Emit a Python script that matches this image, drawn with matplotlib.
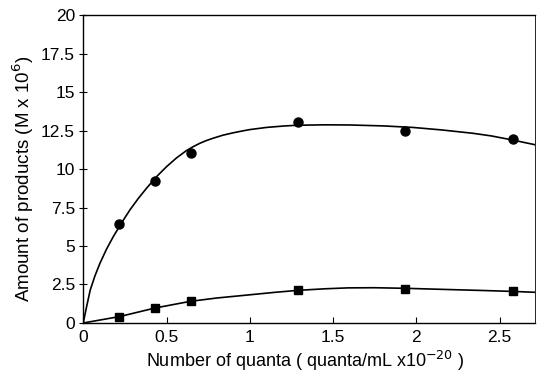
import matplotlib
matplotlib.use("Agg")
import matplotlib.pyplot as plt

plt.rcParams['font.family'] = ['Liberation Sans', 'DejaVu Sans']

# measured points
x_pts = [0.215, 0.43, 0.645, 1.29, 1.935, 2.58]
circle_vals = [6.43, 9.24, 11.06, 13.07, 12.47, 11.93]
square_vals = [0.42, 0.99, 1.41, 2.15, 2.20, 2.05]

# fitted curves
circ_curve_x = [0, 0.02, 0.042, 0.07, 0.10, 0.14, 0.18, 0.23, 0.28, 0.33, 0.38, 0.44, 0.50,
                0.56, 0.62, 0.66, 0.70, 0.74, 0.78, 0.84, 0.90, 0.95, 1.0, 1.1, 1.2, 1.28,
                1.45, 1.6, 1.8, 1.98, 2.15, 2.34, 2.45, 2.58, 2.72]
circ_curve_y = [0, 1.05, 2.14, 3.05, 3.87, 4.8, 5.6, 6.5, 7.34, 8.08, 8.75, 9.5, 10.15,
                10.72, 11.2, 11.45, 11.67, 11.85, 12.0, 12.2, 12.35, 12.46, 12.56, 12.7, 12.79, 12.84,
                12.87, 12.86, 12.8, 12.7, 12.54, 12.32, 12.15, 11.88, 11.56]
sq_curve_x = [0, 0.22, 0.43, 0.64, 0.80, 0.99, 1.15, 1.29, 1.45, 1.59, 1.75, 1.94, 2.2, 2.4, 2.58, 2.72]
sq_curve_y = [0, 0.42, 0.97, 1.40, 1.62, 1.82, 1.99, 2.12, 2.22, 2.28, 2.29, 2.25, 2.17, 2.11, 2.05, 1.99]

xticks = [0, 0.5, 1, 1.5, 2, 2.5]
xtick_labels = ['0', '0.5', '1', '1.5', '2', '2.5']
yticks = [0, 2.5, 5, 7.5, 10, 12.5, 15, 17.5, 20]
ytick_labels = ['0', '2.5', '5', '7.5', '10', '12.5', '15', '17.5', '20']

fig = plt.figure(figsize=(5.37, 3.76), dpi=100)
ax = fig.add_axes([0.155, 0.141, 0.842, 0.819])

ax.plot(circ_curve_x, circ_curve_y, color='black', lw=1.2, solid_joinstyle='round')
ax.plot(sq_curve_x, sq_curve_y, color='black', lw=1.2, solid_joinstyle='round')
ax.plot(x_pts, circle_vals, 'o', color='black', markersize=6.5, clip_on=False)
ax.plot(x_pts, square_vals, 's', color='black', markersize=5.5, clip_on=False)

ax.set_xlim(0, 2.715)
ax.set_ylim(0, 20)
ax.set_xticks(xticks)
ax.set_xticklabels(xtick_labels)
ax.set_yticks(yticks)
ax.set_yticklabels(ytick_labels)
ax.tick_params(axis='x', direction='in', length=4, width=0.8, labelsize=12.5, pad=5)
ax.tick_params(axis='y', direction='inout', length=6, width=0.8, labelsize=12.5, pad=3)
for s in ax.spines.values():
    s.set_linewidth(1.0)
ax.spines['right'].set_linewidth(0.6)

ax.set_xlabel('Number of quanta ( quanta/mL x10$^{-20}$ )', fontsize=13)
ax.set_ylabel('Amount of products (M x 10$^{6}$)', fontsize=13.5)
ax.xaxis.set_label_coords(0.49, -0.085)
ax.yaxis.set_label_coords(-0.105, 0.47)

fig.savefig('out.png', dpi=100)
